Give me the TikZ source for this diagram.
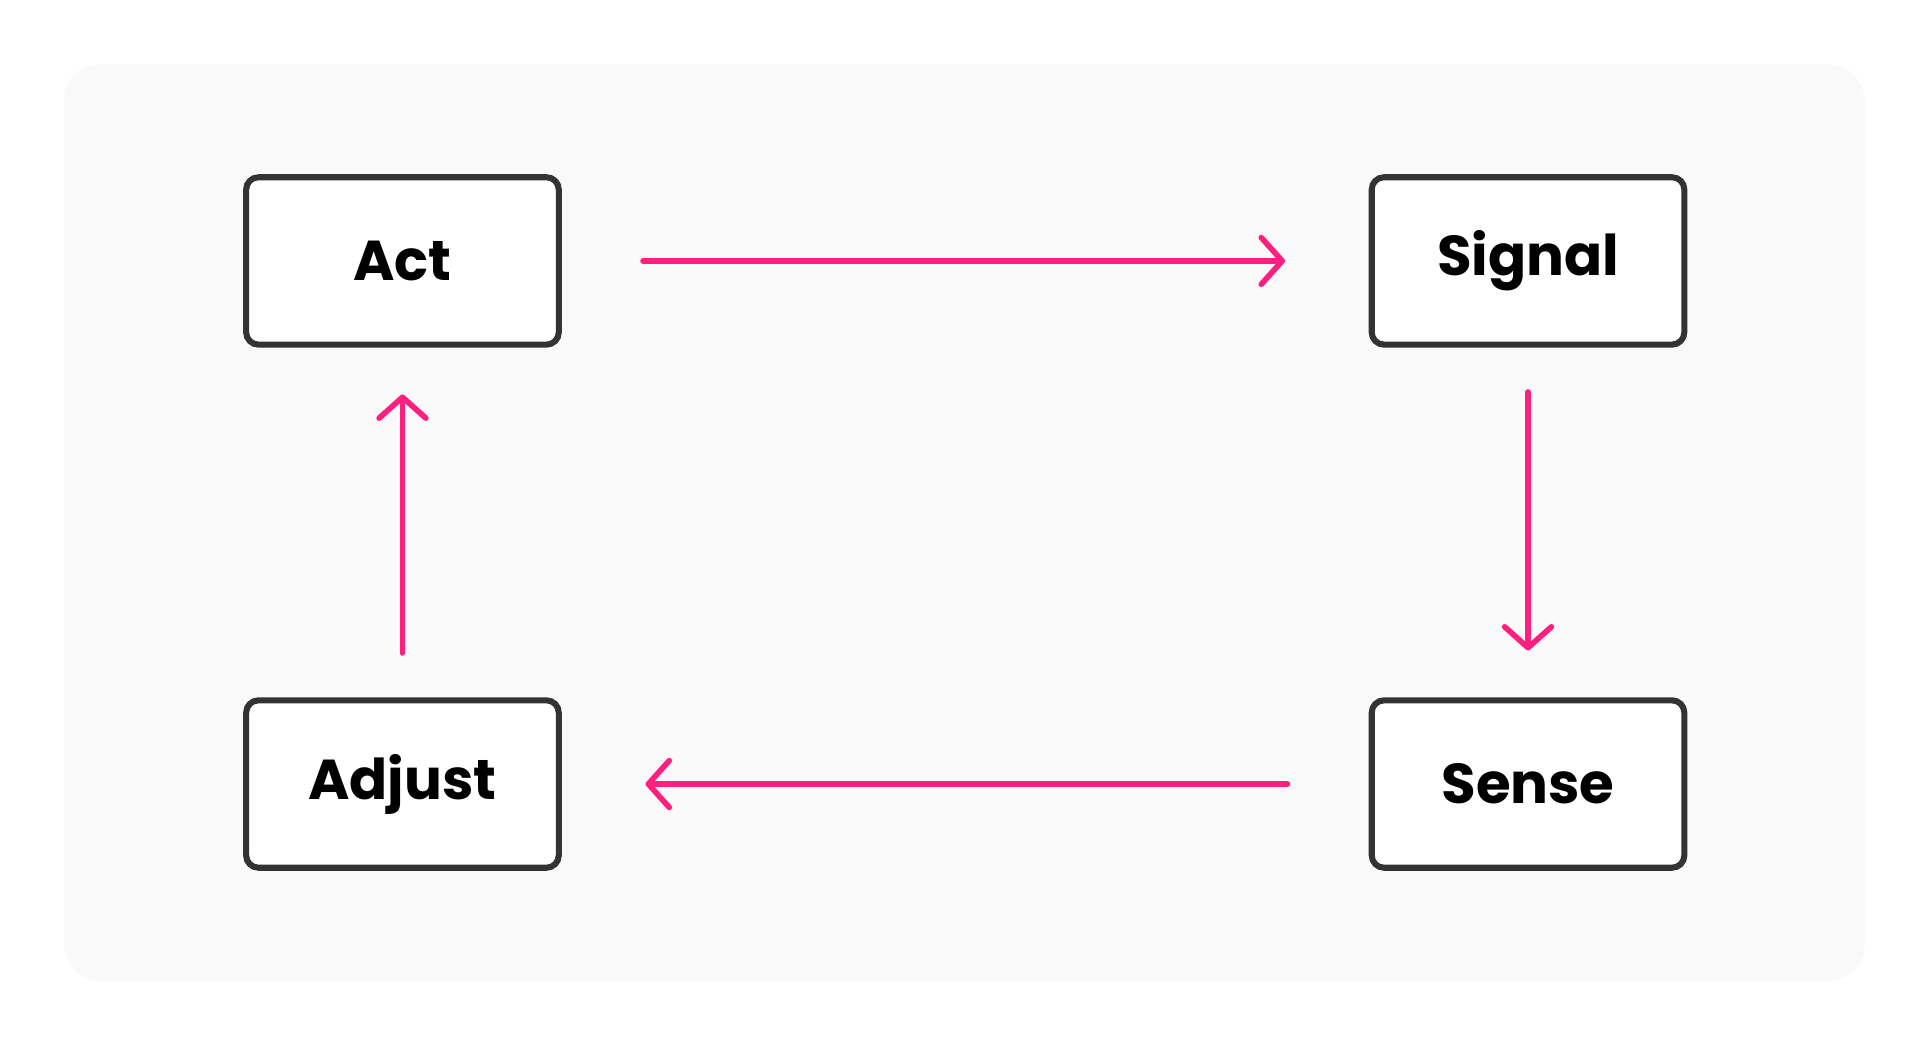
\documentclass[tikz,border=0pt]{standalone}
\usepackage{fontspec}
\setmainfont{Poppins}
\usetikzlibrary{arrows.meta}
\definecolor{panel}{HTML}{F9F9F9}
\definecolor{edge}{HTML}{333333}
\definecolor{loop}{HTML}{FF1F7F}
\begin{document}
\begin{tikzpicture}[
  stage/.style={draw=edge, line width=1.4pt, rounded corners=0.1cm, fill=white,
    minimum width=2.54cm, minimum height=1.36cm, inner sep=0pt,
    font=\fontsize{13}{15}\selectfont\bfseries},
  flow/.style={draw=loop, line width=1.3pt, line cap=round,
    -{Straight Barb[length=0.17cm, width=0.38cm, line cap=round, line join=round]}}
]
% Set the frame
\useasboundingbox (0,0) rectangle (15.6,-8.45);
\fill[panel, rounded corners=0.3cm] (0.52,-0.52) rectangle (15.15,-7.97);

% Draw the four steps
\node[stage] (act) at (3.27,-2.12) {Act};
\node[stage] (signal) at (12.415,-2.12) {Signal};
\node[stage] (sense) at (12.415,-6.37) {Sense};
\node[stage] (adjust) at (3.27,-6.37) {Adjust};

% Draw the loop
\draw[flow, shorten <=0.66cm, shorten >=0.68cm] (act.east) -- (signal.west);
\draw[flow, shorten <=0.36cm, shorten >=0.38cm] (signal.south) -- (sense.north);
\draw[flow, shorten <=0.66cm, shorten >=0.68cm] (sense.west) -- (adjust.east);
\draw[flow, shorten <=0.36cm, shorten >=0.38cm] (adjust.north) -- (act.south);
\end{tikzpicture}
\end{document}
